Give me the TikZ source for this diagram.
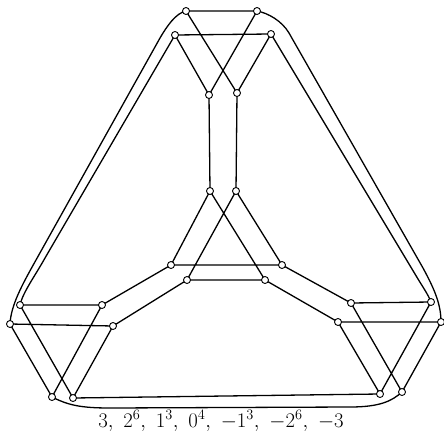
\documentclass[tikz,border=0pt]{standalone}
\begin{document}
\begin{tikzpicture}[x=1pt,y=-1pt,
  vtx/.style={circle,draw,fill=white,inner sep=0pt,minimum size=7pt,line width=0.9pt},
  edge/.style={line width=1.3pt},
  lbl/.style={font=\fontsize{21}{23}\selectfont,anchor=base}]
\useasboundingbox (0,0) rectangle (444,431);
% coordinates
\coordinate (A1) at (186,11);  \coordinate (A2) at (257,11);
\coordinate (A3) at (175,35);  \coordinate (A4) at (271,34);
\coordinate (A5) at (209,95);  \coordinate (A6) at (237,93);
\coordinate (B1) at (210,191); \coordinate (B2) at (236,191);
\coordinate (C1) at (171,265); \coordinate (C2) at (282,265);
\coordinate (C3) at (187,280); \coordinate (C4) at (265,280);
\coordinate (D1) at (20,305);  \coordinate (D2) at (102,305);
\coordinate (D3) at (10,324);  \coordinate (D4) at (113,326);
\coordinate (D5) at (52,397);  \coordinate (D6) at (73,398);
\coordinate (E1) at (351,303); \coordinate (E2) at (431,302);
\coordinate (E3) at (338,322); \coordinate (E4) at (441,322);
\coordinate (E5) at (380,394); \coordinate (E6) at (402,392);
% straight edges
\draw[edge] (A1)--(A2) (A3)--(A4) (A1)--(A6) (A2)--(A5) (A3)--(A5) (A4)--(A6)
  (A5)--(B1) (A6)--(B2)
  (B1)--(C1) (B1)--(C4) (B2)--(C2) (B2)--(C3) (C1)--(C2) (C3)--(C4)
  (C1)--(D2) (C3)--(D4) (C2)--(E1) (C4)--(E3)
  (D1)--(D2) (D3)--(D4) (D1)--(D6) (D3)--(D5) (D2)--(D5) (D4)--(D6)
  (E1)--(E2) (E3)--(E4) (E1)--(E6) (E3)--(E5) (E2)--(E5) (E4)--(E6);
% outer loop (rounded corners)
\draw[edge] (A1) .. controls (176,13) and (167,26) .. (160,38)
  -- (36,260) .. controls (22,285) and (11,305) .. (D3);
\draw[edge] (A2) .. controls (268,13) and (282,21) .. (289,33)
  -- (423,268) .. controls (435,290) and (441,305) .. (E4);
\draw[edge] (D5) .. controls (68,405) and (80,408) .. (110,408)
  -- (350,407) .. controls (380,407) and (392,401) .. (E6);
% inner loop
\draw[edge] (A3) -- (45,258) .. controls (35,276) and (23,292) .. (D1);
\draw[edge] (A4) -- (415,274) .. controls (422,286) and (428,294) .. (E2);
\draw[edge] (D6) .. controls (150,397) and (300,395) .. (E5);
% vertices
\foreach \v in {A1,A2,A3,A4,A5,A6,B1,B2,C1,C2,C3,C4,D1,D2,D3,D4,D5,D6,E1,E2,E3,E4,E5,E6}
  \node[vtx] (n\v) at (\v) {};
\node[lbl] (cap) at (221,427) {$3,\ 2^6,\ 1^3,\ 0^4,\ -1^3,\ -2^6,\ -3$};
\end{tikzpicture}
\end{document}
